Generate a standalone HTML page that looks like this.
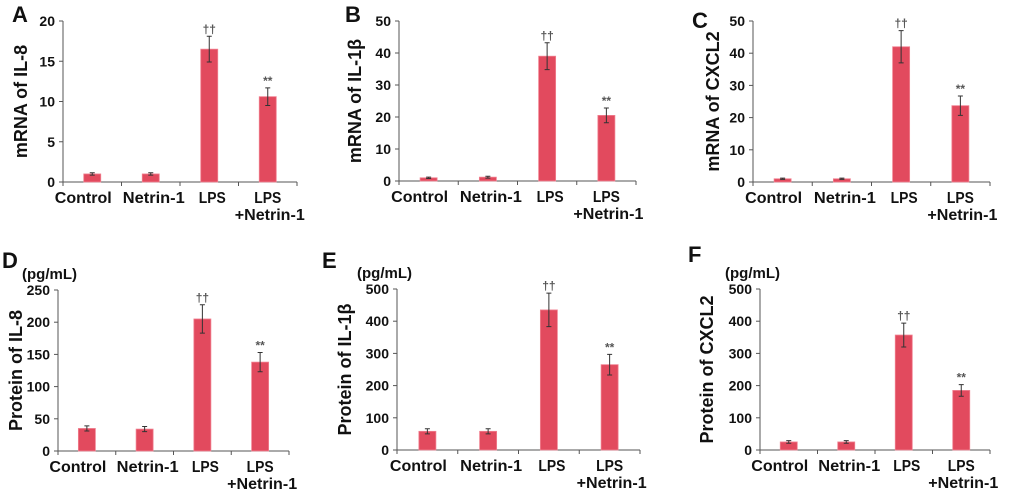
<!DOCTYPE html>
<html><head><meta charset="utf-8">
<style>
html,body{margin:0;padding:0;background:#fff;}
svg{display:block;font-family:"Liberation Sans",sans-serif;}
</style></head>
<body>
<svg id="fig" width="1020" height="493" viewBox="0 0 1020 493" xmlns="http://www.w3.org/2000/svg"></svg>
<script>
const categories = ["Control","Netrin-1","LPS","LPS+Netrin-1"];
const valuesA = [1.0, 1.0, 16.5, 10.6];
const errorsA = [0.15, 0.15, 1.6, 1.1];
const valuesB = [1.0, 1.2, 39, 20.5];
const errorsB = [0.2, 0.3, 4.2, 2.3];
const valuesC = [1.0, 1.0, 42, 23.7];
const errorsC = [0.2, 0.2, 5, 3];
const valuesD = [35, 34, 205, 138];
const errorsD = [4, 4, 22, 15];
const valuesE = [58, 58, 435, 265];
const errorsE = [8, 8, 52, 32];
const valuesF = [25, 25, 357, 185];
const errorsF = [4, 4, 37, 18];
const ticksA = [0,5,10,15,20];
const ticksB = [0,10,20,30,40,50];
const ticksC = [0,10,20,30,40,50];
const ticksD = [0,50,100,150,200,250];
const ticksE = [0,100,200,300,400,500];
const ticksF = [0,100,200,300,400,500];
const marksText = ["","","††","**"];

const NS="http://www.w3.org/2000/svg";
const svg=document.getElementById('fig');
function mk(tag,attrs,parent){const e=document.createElementNS(NS,tag);for(const k in attrs)e.setAttribute(k,attrs[k]);(parent||svg).appendChild(e);return e;}

const panels=[
 {id:'a',letter:'A',lx:12,ly:22,x0:63,x1:297,yb:182,yt:21,vals:valuesA,errs:errorsA,ticks:ticksA,title:'mRNA of IL-8',tx:22,unit:false},
 {id:'b',letter:'B',lx:345,ly:22,x0:399,x1:636,yb:181,yt:21,vals:valuesB,errs:errorsB,ticks:ticksB,title:'mRNA of IL-1β',tx:356,unit:false},
 {id:'c',letter:'C',lx:692,ly:28,x0:753,x1:990,yb:182,yt:21,vals:valuesC,errs:errorsC,ticks:ticksC,title:'mRNA of CXCL2',tx:714,unit:false},
 {id:'d',letter:'D',lx:2,ly:268,x0:58,x1:289,yb:451,yt:290,vals:valuesD,errs:errorsD,ticks:ticksD,title:'Protein of IL-8',tx:17,unit:true,ux:22},
 {id:'e',letter:'E',lx:322,ly:268,x0:397,x1:640,yb:450,yt:289,vals:valuesE,errs:errorsE,ticks:ticksE,title:'Protein of IL-1β',tx:346,unit:true,ux:357},
 {id:'f',letter:'F',lx:688,ly:262,x0:760,x1:990,yb:450,yt:289,vals:valuesF,errs:errorsF,ticks:ticksF,title:'Protein of CXCL2',tx:708,unit:true,ux:725}
];
const labelShift=[-9,3,3,0];
const labelLen=[57,62,27,0];

panels.forEach(p=>{
 const g=mk('g',{});
 
 
 const max=p.ticks[p.ticks.length-1];
 const y=v=>p.yb-(v/max)*(p.yb-p.yt);
 const cw=(p.x1-p.x0)/categories.length;
 const cx=i=>p.x0+(i+0.5)*cw;
 const L=mk('text',{x:p.lx,y:p.ly,'font-size':22,'font-weight':'bold',fill:'#111'},g);L.textContent=p.letter;
 
 if(p.unit){const u=mk('text',{x:p.ux,y:p.yt-11,'font-size':15,'font-weight':'bold',fill:'#111'},g);u.textContent='(pg/mL)';
  }
 const midY=(p.yb+p.yt)/2;
 const t=mk('text',{x:p.tx,y:midY,'font-size':18,'font-weight':'bold',fill:'#111','text-anchor':'middle','dominant-baseline':'middle',transform:`rotate(-90 ${p.tx} ${midY})`},g);
 t.textContent=p.title;
 
 const ya=mk('line',{x1:p.x0,y1:p.yt,x2:p.x0,y2:p.yb,stroke:'#555','stroke-width':1},g);
 
 const xa=mk('line',{x1:p.x0,y1:p.yb,x2:p.x1,y2:p.yb,stroke:'#555','stroke-width':1},g);
 
 p.ticks.forEach(v=>{
  mk('line',{x1:p.x0-4,y1:y(v),x2:p.x0,y2:y(v),stroke:'#555'},g);
  const tl=mk('text',{x:p.x0-8,y:y(v)+5,'font-size':14,'font-weight':'bold',fill:'#111','text-anchor':'end'},g);
  tl.textContent=v;
  
 });
 for(let i=0;i<=categories.length;i++){mk('line',{x1:p.x0+i*cw,y1:p.yb,x2:p.x0+i*cw,y2:p.yb+4,stroke:'#555'},g);}
 categories.forEach((c,i)=>{
  const v=p.vals[i],e=p.errs[i];
  const b=mk('rect',{x:cx(i)-8.5,y:y(v),width:17,height:p.yb-y(v),fill:'#e24a5e',stroke:'#f08090','stroke-width':0.8},g);
  
  
  const eb=mk('path',{d:`M${cx(i)} ${y(v+e)}V${y(v-e)}M${cx(i)-2.5} ${y(v+e)}H${cx(i)+2.5}M${cx(i)-2.5} ${y(v-e)}H${cx(i)+2.5}`,stroke:'#333','stroke-width':1,fill:'none'},g);
  
  if(marksText[i]){const m=mk('text',{x:cx(i),y:y(v+e)-3,'font-size':12,'font-weight':'bold',fill:'#555','text-anchor':'middle'},g);m.textContent=marksText[i];
   }
  const lx=cx(i)+labelShift[i];
  if(c==='LPS+Netrin-1'){
   const a=mk('text',{x:cx(i),y:p.yb+21,'font-size':16,'font-weight':'bold',fill:'#111','text-anchor':'middle',textLength:27,lengthAdjust:'spacingAndGlyphs'},g);a.textContent='LPS';
   
   const b2=mk('text',{x:cx(i)+2,y:p.yb+38,'font-size':16,'font-weight':'bold',fill:'#111','text-anchor':'middle',textLength:70,lengthAdjust:'spacingAndGlyphs'},g);b2.textContent='+Netrin-1';
   
  } else {
   const a=mk('text',{x:lx,y:p.yb+21,'font-size':16,'font-weight':'bold',fill:'#111','text-anchor':'middle',textLength:labelLen[i],lengthAdjust:'spacingAndGlyphs'},g);a.textContent=c;
   
  }
 });
});
</script>
</body></html>
